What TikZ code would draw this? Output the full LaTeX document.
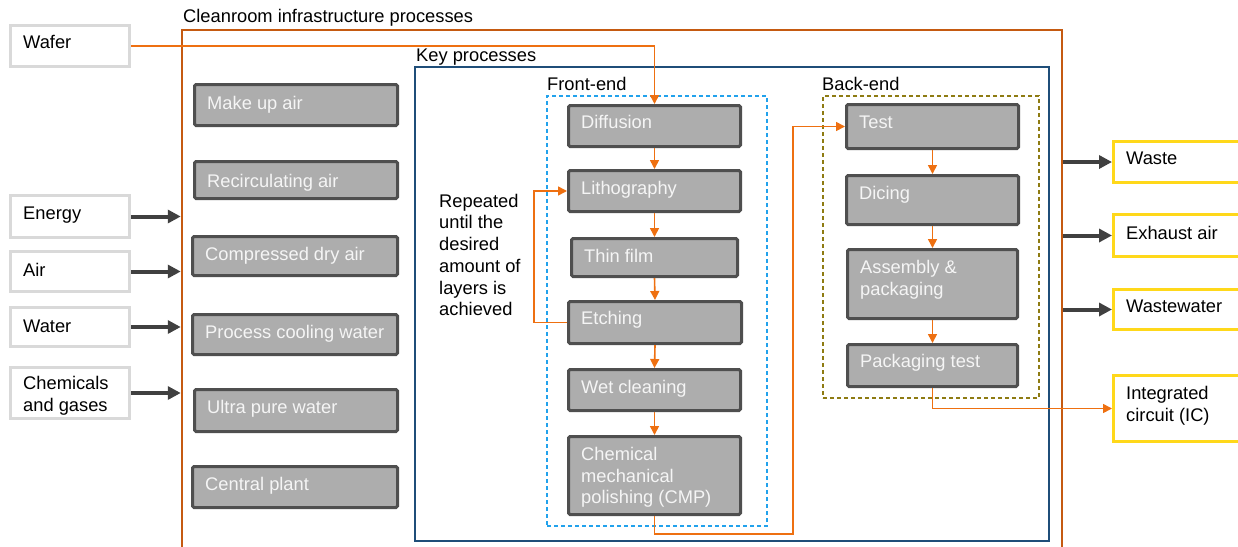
\documentclass[tikz,border=0pt]{standalone}
\usepackage{fontspec}
\setmainfont{Liberation Sans}
\usetikzlibrary{arrows.meta,calc}

\definecolor{procfill}{HTML}{ADADAD}
\definecolor{procedge}{HTML}{4F4F4F}
\definecolor{inedge}{HTML}{D9D9D9}
\definecolor{outedge}{HTML}{FFD81A}
\definecolor{flow}{HTML}{EE7011}
\definecolor{cleanedge}{HTML}{C55A11}
\definecolor{keyedge}{HTML}{1F4E79}
\definecolor{frontedge}{HTML}{22A2EC}
\definecolor{backedge}{HTML}{8E7B12}
\definecolor{utility}{HTML}{404040}

\tikzset{
  txt/.style={font=\fontsize{18.3}{21.7}\selectfont, inner sep=0pt, align=left},
  proc/.style={draw=procedge, fill=procfill, line width=3pt, rounded corners=1.5pt, inner sep=0pt},
  proc text/.style={txt, text=white!96!black},
  inbox/.style={draw=inedge, fill=white, line width=3pt, inner sep=0pt},
  inbox text/.style={txt, text=black},
  outbox/.style={draw=outedge, fill=white, line width=3pt, inner sep=0pt},
  outbox text/.style={txt, text=black},
  feed/.style={draw=utility, line width=4pt, -{Triangle[length=13pt,width=13pt]}},
  flowline/.style={draw=flow, line width=1.6pt, -{Triangle[length=9pt,width=9pt]}},
}

% box from corner (x1,y1) to (x2,y2) with its text set in from the left edge
% #1 name, #2 style, #3 x1, #4 y1, #5 x2, #6 y2, #7 text lift, #8 text
\newcommand\flowbox[8]{%
  \node[#2, minimum width={#5-#3-3}, minimum height={#6-#4-3}] (#1) at ({(#3+#5)/2},{(#4+#6)/2}) {};
  \node[#2 text, anchor=west] (#1-t) at ([xshift=14pt,yshift=#7]#1.west) {#8};}

\begin{document}
\begin{tikzpicture}[x=1pt,y=-1pt]
\useasboundingbox (0,0) rectangle (1238,546);
\clip (0,0) rectangle (1238,546);

% frames
\node[draw=cleanedge, line width=2.5pt, minimum width=880, minimum height=540, inner sep=0pt] (clean) at (622,300) {};
\node[txt, anchor=west] (clean-t) at (183,18) {Cleanroom infrastructure processes};
\node[draw=keyedge, line width=2.5pt, minimum width=634, minimum height=474, inner sep=0pt] (key) at (732,304) {};
\node[txt, anchor=west] (key-t) at (416,57) {Key processes};
\node[draw=frontedge, line width=1.5pt, dash pattern=on 4pt off 3pt, minimum width=220, minimum height=430, inner sep=0pt] (front) at (657,311) {};
\node[txt, anchor=west] (front-t) at (547,84) {Front-end};
\node[draw=backedge, line width=1.5pt, dash pattern=on 4pt off 3pt, minimum width=216, minimum height=302, inner sep=0pt] (back) at (931,247) {};
\node[txt, anchor=west] (back-t) at (822,84) {Back-end};

% cleanroom infrastructure
\flowbox{makeup}{proc}{193}{83}{399}{127}{0pt}{Make up air}
\flowbox{recirc}{proc}{193}{160}{399}{200}{-3pt}{Recirculating air}
\flowbox{cda}{proc}{191}{235}{399}{277}{0pt}{Compressed dry air}
\flowbox{pcw}{proc}{191}{313}{399}{356}{1pt}{Process cooling water}
\flowbox{upw}{proc}{193}{388}{399}{433}{2pt}{Ultra pure water}
\flowbox{central}{proc}{191}{465}{399}{509}{1pt}{Central plant}

% front-end steps
\flowbox{diff}{proc}{567}{104}{742}{148}{4pt}{Diffusion}
\flowbox{litho}{proc}{567}{169}{742}{213}{1pt}{Lithography}
\flowbox{thin}{proc}{570}{237}{739}{278}{2pt}{Thin film}
\flowbox{etch}{proc}{567}{300}{743}{345}{3pt}{Etching}
\flowbox{wet}{proc}{567}{368}{742}{412}{1pt}{Wet cleaning}
\flowbox{cmp}{proc}{567}{435}{742}{516}{-2pt}{Chemical\\mechanical\\polishing (CMP)}

% back-end steps
\flowbox{test}{proc}{845}{103}{1020}{150}{4pt}{Test}
\flowbox{dicing}{proc}{845}{174}{1020}{226}{5pt}{Dicing}
\flowbox{assembly}{proc}{846}{248}{1019}{320}{4pt}{Assembly \&\\packaging}
\flowbox{pkgtest}{proc}{846}{343}{1019}{388}{3pt}{Packaging test}

% inputs
\flowbox{wafer}{inbox}{9}{24}{131}{68}{4pt}{Wafer}
\flowbox{energy}{inbox}{9}{194}{131}{239}{1pt}{Energy}
\flowbox{air}{inbox}{9}{250}{131}{293}{2pt}{Air}
\flowbox{water}{inbox}{9}{306}{131}{348}{1pt}{Water}
\flowbox{chem}{inbox}{9}{366}{131}{420}{-3pt}{Chemicals\\and gases}

% outputs
\flowbox{waste}{outbox}{1112}{140}{1260}{184}{4pt}{Waste}
\flowbox{exhaust}{outbox}{1112}{213}{1260}{258}{3pt}{Exhaust air}
\flowbox{wastewater}{outbox}{1112}{288}{1260}{331}{3pt}{Wastewater}
\flowbox{ic}{outbox}{1112}{374}{1260}{443}{3pt}{Integrated\\circuit (IC)}

% loop note
\node[txt, anchor=west] (note) at (439,255) {Repeated\\until the\\desired\\amount of\\layers is\\achieved};

% utilities into the cleanroom
\foreach \src in {energy,air,water,chem}
  \draw[feed] (\src.east) -- (\src.east -| clean.west);
% emissions out of the cleanroom
\foreach \dst in {waste,exhaust,wastewater}
  \draw[feed] (\dst.west -| clean.east) -- (\dst.west);

% wafer flow
\draw[flowline] (wafer.east) -| (diff.north);
\draw[flowline] (diff.south) -- (litho.north);
\draw[flowline] (litho.south) -- (thin.north);
\draw[flowline] (thin.south) -- (etch.north);
\draw[flowline] (etch.south) -- (wet.north);
\draw[flowline] (wet.south) -- (cmp.north);
\coordinate (loopx) at (534,0);
\draw[flowline] (etch.west) -- (etch.west -| loopx) |- (litho.west);
\coordinate (bend) at (793,534);
\draw[flowline] (cmp.south) |- (bend) |- (test.west);
\draw[flowline] (test.south) -- (dicing.north);
\draw[flowline] (dicing.south) -- (assembly.north);
\draw[flowline] (assembly.south) -- (pkgtest.north);
\draw[flowline] (pkgtest.south) |- (ic.west);
\end{tikzpicture}
\end{document}
